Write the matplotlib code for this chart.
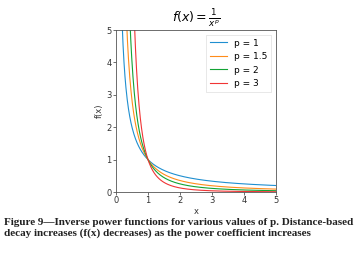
import numpy as np
import matplotlib
matplotlib.use("Agg")
import matplotlib.pyplot as plt

# chart values
powers = [1, 1.5, 2, 3]
labels = ["p = 1", "p = 1.5", "p = 2", "p = 3"]
colours = ["#1f8fd0", "#ff8c1a", "#12a335", "#f03535"]
ticks = [0, 1, 2, 3, 4, 5]
caption = ("Figure 9\u2014Inverse power functions for various values of p. Distance-based\n"
           "decay increases (f(x) decreases) as the power coefficient increases")

x = np.linspace(0.01, 5, 500)

fig = plt.figure(figsize=(3.63, 2.59), dpi=100)
ax = fig.add_axes([116 / 363, 1 - 192 / 259, 160 / 363, 162 / 259])

for p, lab, c in zip(powers, labels, colours):
    ax.plot(x, 1 / x ** p, color=c, lw=0.8, label=lab)

ax.set_xlim(0, 5)
ax.set_ylim(0, 5)
ax.set_xticks(ticks)
ax.set_yticks(ticks)
ax.tick_params(labelsize=6, length=2, width=0.5, pad=1, colors="#333333")
for s in ax.spines.values():
    s.set_linewidth(0.6)
    s.set_color("#555555")
ax.set_xlabel("x", fontsize=6, labelpad=1, color="#333333")
ax.set_ylabel("f(x)", fontsize=6, labelpad=2, color="#333333")
ax.set_title(r"$f(x) = \frac{1}{x^p}$", fontsize=9, pad=2)

leg = ax.legend(loc="upper right", fontsize=6.5, handlelength=1.9, borderpad=0.45,
                labelspacing=0.5, framealpha=0.8, fancybox=False)
leg.get_frame().set_linewidth(0.4)

fig.text(4 / 363, 1 - 218 / 259, caption, fontsize=8, fontweight="bold",
         family="Liberation Serif", va="top", ha="left", linespacing=1.2, color="#222222")

fig.savefig("out.png", dpi=100)
